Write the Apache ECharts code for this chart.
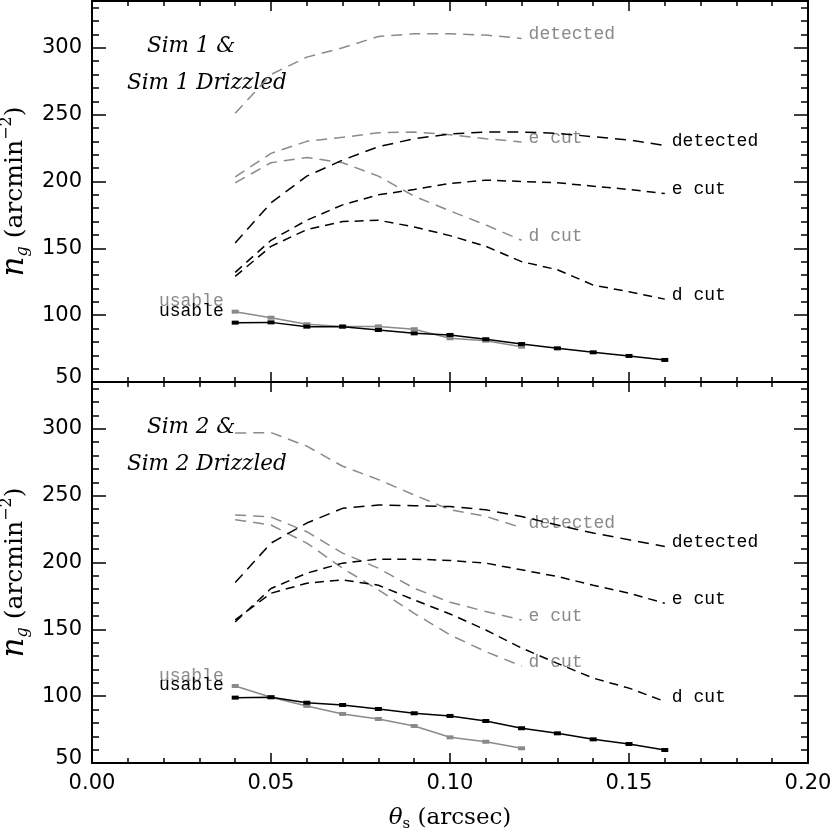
<!DOCTYPE html>
<html>
<head>
<meta charset="utf-8">
<script src="https://cdn.jsdelivr.net/npm/echarts@6/dist/echarts.min.js"></script>
<style>
* { margin: 0; padding: 0; }
body { background: #fff; }
#chart { width: 830px; height: 833px; }
</style>
</head>
<body>
<div id="chart"></div>
<script>
// theta_s (arcsec)
const thetaFull = [0.04, 0.05, 0.06, 0.07, 0.08, 0.09, 0.10, 0.11, 0.12, 0.13, 0.14, 0.15, 0.16];
const thetaDrz = [0.04, 0.05, 0.06, 0.07, 0.08, 0.09, 0.10, 0.11, 0.12];

// Sim 1 (black) / Sim 1 Drizzled (grey)
const sim1Detected = [154, 184, 204, 216, 226, 232, 235.5, 237, 237, 236, 233.5, 231, 227];
const sim1ECut = [132, 156, 171, 182.5, 190, 194, 198.5, 201, 200, 199, 196.5, 194, 191];
const sim1DCut = [129, 151.5, 164, 170, 171, 166, 159.5, 151.5, 140, 134, 122.5, 117.5, 112];
const sim1Usable = [94.4, 94.6, 91.4, 91.4, 88.9, 86.4, 85.2, 82, 78.4, 75.2, 72.2, 69.5, 66.5];
const sim1DrzDetected = [251, 280, 293, 300, 308.5, 310.5, 310.5, 309.5, 307];
const sim1DrzECut = [203.5, 221, 230, 233, 236.5, 237, 235, 232, 229.5];
const sim1DrzDCut = [199, 214, 218, 214, 204, 189, 178, 167.5, 156];
const sim1DrzUsable = [102.6, 98.1, 93.2, 91.6, 91.6, 89.5, 82.7, 80.9, 76.4];

// Sim 2 (black) / Sim 2 Drizzled (grey)
const sim2Detected = [185, 214.5, 229.5, 240.5, 243, 242.5, 241.8, 239.4, 234.4, 228, 222, 217, 212];
const sim2ECut = [155.5, 180.5, 192, 199.5, 202.5, 202.5, 201.5, 199.5, 194.5, 189.5, 183, 177, 169.5];
const sim2DCut = [157, 177, 184.5, 187, 183, 172, 161.5, 149.5, 136, 124.5, 113.5, 106, 96];
const sim2Usable = [98.9, 99.2, 95.1, 93.4, 90.4, 87.2, 85.2, 81.4, 76, 72.2, 67.7, 64.2, 59.7];
const sim2DrzDetected = [296.8, 297.2, 287, 272, 262, 250.5, 239.5, 234.5, 226];
const sim2DrzECut = [235.6, 234, 223, 207, 195.7, 180.7, 170.3, 163.3, 157];
const sim2DrzDCut = [232, 228, 214.5, 195.7, 179.5, 162, 145.8, 133.3, 122.5];
const sim2DrzUsable = [107.6, 99.2, 92.7, 86.7, 82.9, 77.7, 69.2, 65.9, 61];

const xTicks = [0, 0.2, 0.05];
const yTicks = [50, 335, 50, 10];

const BLACK = '#000';
const GREY = '#8a8a8a';
const tickFont = '"DejaVu Sans", sans-serif';
const nameFont = '"DejaVu Serif", serif';
const lblFont = '"Liberation Mono", monospace';

function dashed(name, xs, ys, g, color, dash) {
  return {
    name: name, type: 'line', xAxisIndex: g * 2, yAxisIndex: g * 2,
    data: xs.map((x, i) => [x, ys[i]]),
    showSymbol: false, silent: true,
    lineStyle: { color: color, width: 1.5, type: dash },
    endLabel: {
      show: true, formatter: name, color: color, fontFamily: lblFont,
      fontSize: 18, distance: 7, offset: [0, -4]
    },
    z: color === BLACK ? 3 : 2
  };
}

function usable(xs, ys, g, color, dy) {
  return {
    name: 'usable', type: 'line', xAxisIndex: g * 2, yAxisIndex: g * 2,
    data: xs.map((x, i) => {
      if (i > 0) return [x, ys[i]];
      return {
        value: [x, ys[i]],
        label: {
          show: true, position: 'left', formatter: 'usable', color: color,
          fontFamily: lblFont, fontSize: 18, distance: 8, offset: [0, dy]
        }
      };
    }),
    symbol: 'rect', symbolSize: [7, 4], showSymbol: true, silent: true,
    itemStyle: { color: color },
    lineStyle: { color: color, width: 1.5 },
    z: color === BLACK ? 3 : 2
  };
}

function xAxes(g) {
  const base = {
    gridIndex: g, type: 'value', min: xTicks[0], max: xTicks[1], interval: xTicks[2],
    axisLine: { show: true, onZero: false, lineStyle: { color: BLACK, width: 2 } },
    axisTick: { show: true, inside: true, length: 10, lineStyle: { color: BLACK, width: 1.5 } },
    minorTick: { show: true, splitNumber: 5, length: 5, lineStyle: { color: BLACK, width: 1.5 } },
    splitLine: { show: false }
  };
  return [
    Object.assign({}, base, {
      position: 'bottom',
      axisLabel: {
        show: g === 1, margin: 10, color: BLACK, fontFamily: tickFont, fontSize: 21,
        formatter: v => v.toFixed(2)
      },
      name: g === 1 ? '{t|θ}{s|s} (arcsec)' : '',
      nameLocation: 'middle', nameGap: 41,
      nameTextStyle: {
        color: BLACK, fontFamily: nameFont, fontSize: 23,
        rich: {
          t: { fontFamily: nameFont, fontSize: 23, fontStyle: 'italic', color: BLACK },
          s: { fontFamily: nameFont, fontSize: 15, color: BLACK, verticalAlign: 'bottom', lineHeight: 28 }
        }
      }
    }),
    Object.assign({}, base, { position: 'top', axisLabel: { show: false } })
  ];
}

function yAxes(g) {
  const major = {
    gridIndex: g, type: 'value', min: yTicks[0], max: yTicks[1], interval: yTicks[2],
    splitLine: { show: false },
    axisLine: { show: true, onZero: false, lineStyle: { color: BLACK, width: 2 } },
    axisTick: { show: true, inside: true, length: 14, lineStyle: { color: BLACK, width: 1.5 } }
  };
  return [
    Object.assign({}, major, {
      position: 'left',
      axisLabel: {
        margin: 10, color: BLACK, fontFamily: tickFont, fontSize: 21,
        formatter: v => v > 300 ? '' : (v === 50 ? '{lo|50}' : String(v)),
        rich: { lo: { fontFamily: tickFont, fontSize: 21, color: BLACK, padding: [0, 0, 8, 0] } }
      },
      name: '{n|n}{g|g} (arcmin{p|−2})',
      nameLocation: 'middle', nameGap: 54, nameRotate: 90,
      nameTextStyle: {
        color: BLACK, fontFamily: nameFont, fontSize: 25,
        rich: {
          n: { fontFamily: nameFont, fontStyle: 'italic', fontSize: 31, color: BLACK },
          g: { fontFamily: nameFont, fontStyle: 'italic', fontSize: 16, color: BLACK, verticalAlign: 'bottom', lineHeight: 32 },
          p: { fontFamily: nameFont, fontSize: 16, color: BLACK, verticalAlign: 'top', lineHeight: 32 }
        }
      }
    }),
    Object.assign({}, major, { position: 'right', axisLabel: { show: false } })
  ];
}

// second grid on the same rect, only for the 10-unit minor ticks on y
function minorYAxes(g) {
  const minor = {
    gridIndex: g, type: 'value', min: yTicks[0], max: yTicks[1], interval: yTicks[3],
    splitLine: { show: false },
    axisLine: { show: false },
    axisTick: { show: true, inside: true, length: 7, lineStyle: { color: BLACK, width: 1.5 } },
    axisLabel: { show: false }
  };
  return [
    Object.assign({}, minor, { position: 'left' }),
    Object.assign({}, minor, { position: 'right' })
  ];
}

function hiddenX(g) {
  return { gridIndex: g, type: 'value', min: xTicks[0], max: xTicks[1], show: false };
}

function panel(top) {
  return { left: 92, right: 22, top: top, height: 381, outerBoundsMode: 'none', containLabel: false };
}

const simFont = 'italic 21.5px "DejaVu Serif", serif';

const option = {
  animation: false,
  backgroundColor: '#fff',
  grid: [panel(1), panel(382), panel(1), panel(382)],
  xAxis: xAxes(0).concat(xAxes(1), [hiddenX(2), hiddenX(3)]),
  yAxis: yAxes(0).concat(yAxes(1), minorYAxes(2), minorYAxes(3)),
  graphic: [
    { type: 'text', left: 147, top: 35, style: { text: 'Sim 1 &', font: simFont, fill: BLACK } },
    { type: 'text', left: 127, top: 72, style: { text: 'Sim 1 Drizzled', font: simFont, fill: BLACK } },
    { type: 'text', left: 147, top: 416, style: { text: 'Sim 2 &', font: simFont, fill: BLACK } },
    { type: 'text', left: 127, top: 453, style: { text: 'Sim 2 Drizzled', font: simFont, fill: BLACK } }
  ],
  series: [
    dashed('detected', thetaDrz, sim1DrzDetected, 0, GREY, [11, 7]),
    dashed('e cut', thetaDrz, sim1DrzECut, 0, GREY, [11, 7]),
    dashed('d cut', thetaDrz, sim1DrzDCut, 0, GREY, [11, 7]),
    usable(thetaDrz, sim1DrzUsable, 0, GREY, -10),
    dashed('detected', thetaFull, sim1Detected, 0, BLACK, [11, 7]),
    dashed('e cut', thetaFull, sim1ECut, 0, BLACK, [9, 6]),
    dashed('d cut', thetaFull, sim1DCut, 0, BLACK, [9, 6]),
    usable(thetaFull, sim1Usable, 0, BLACK, -11),

    dashed('detected', thetaDrz, sim2DrzDetected, 1, GREY, [11, 7]),
    dashed('e cut', thetaDrz, sim2DrzECut, 1, GREY, [11, 7]),
    dashed('d cut', thetaDrz, sim2DrzDCut, 1, GREY, [11, 7]),
    usable(thetaDrz, sim2DrzUsable, 1, GREY, -10),
    dashed('detected', thetaFull, sim2Detected, 1, BLACK, [11, 7]),
    dashed('e cut', thetaFull, sim2ECut, 1, BLACK, [9, 6]),
    dashed('d cut', thetaFull, sim2DCut, 1, BLACK, [9, 6]),
    usable(thetaFull, sim2Usable, 1, BLACK, -12)
  ]
};

const chart = echarts.init(document.getElementById('chart'));
chart.setOption(option);
</script>
</body>
</html>
